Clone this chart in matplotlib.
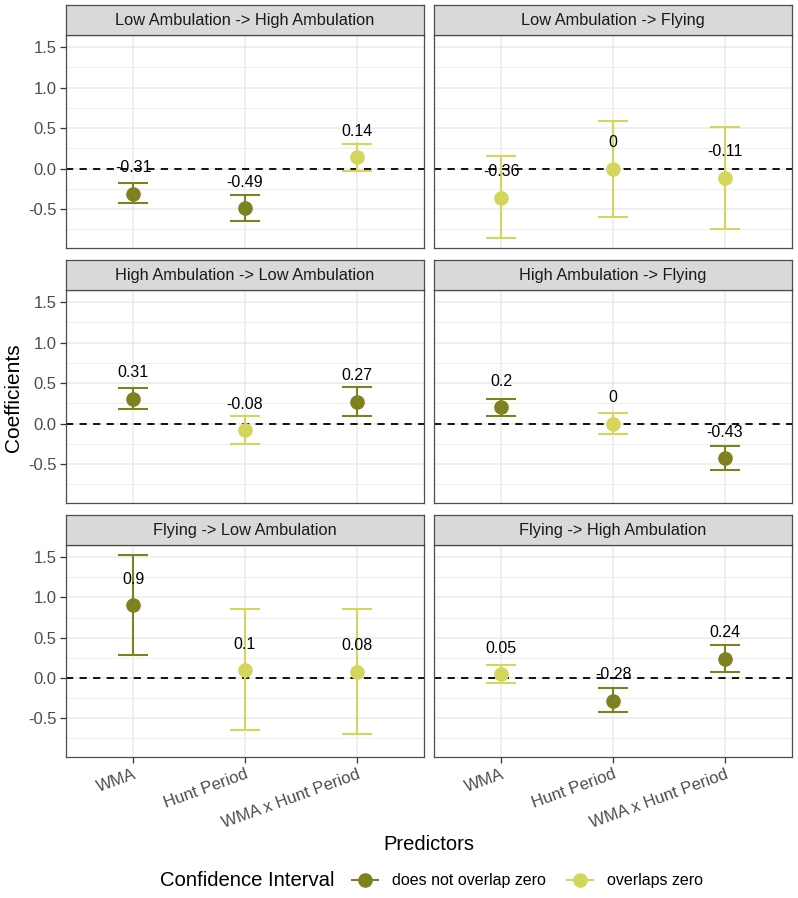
import matplotlib
matplotlib.use("Agg")
import matplotlib.pyplot as plt
from matplotlib.lines import Line2D

plt.rcParams["font.family"] = ["Liberation Sans", "DejaVu Sans"]

# ---- data ----
panels = ["Low Ambulation -> High Ambulation", "Low Ambulation -> Flying",
          "High Ambulation -> Low Ambulation", "High Ambulation -> Flying",
          "Flying -> Low Ambulation", "Flying -> High Ambulation"]
predictors = ["WMA", "Hunt Period", "WMA x Hunt Period"]

estimate = [[-0.31, -0.49, 0.14],
            [-0.36, 0.00, -0.11],
            [0.31, -0.08, 0.27],
            [0.20, 0.00, -0.43],
            [0.90, 0.10, 0.08],
            [0.05, -0.28, 0.24]]
ci_low = [[-0.43, -0.65, -0.03],
          [-0.86, -0.60, -0.74],
          [0.175, -0.25, 0.09],
          [0.095, -0.13, -0.575],
          [0.28, -0.65, -0.70],
          [-0.065, -0.42, 0.08]]
ci_high = [[-0.18, -0.33, 0.305],
           [0.155, 0.59, 0.52],
           [0.44, 0.09, 0.45],
           [0.30, 0.13, -0.28],
           [1.525, 0.86, 0.86],
           [0.165, -0.13, 0.41]]

groups = ["does not overlap zero", "overlaps zero"]
colors = {"does not overlap zero": "#7D811F", "overlaps zero": "#D3D65B"}

W, H = 798, 898
fig = plt.figure(figsize=(W / 100, H / 100), dpi=100)

def box(x0, y0, x1, y1):
    # pixel box (top-left origin) -> figure fraction
    return [x0 / W, 1 - y1 / H, (x1 - x0) / W, (y1 - y0) / H]

cols_x = [(66, 424), (434, 792)]
rows_y = [(35, 248), (290, 503), (545, 757)]
strip_h = 30
ylim = (-0.98, 1.65)

for p, title in enumerate(panels):
    r, c = divmod(p, 2)
    x0, x1 = cols_x[c]
    y0, y1 = rows_y[r]
    ax = fig.add_axes(box(x0, y0, x1, y1))
    ax.set_xlim(-0.6, 2.6)
    ax.set_ylim(*ylim)
    ax.set_yticks([-0.5, 0, 0.5, 1.0, 1.5])
    ax.set_yticks([-0.75, -0.25, 0.25, 0.75, 1.25], minor=True)
    ax.set_xticks(range(len(predictors)))
    ax.grid(which="major", color="#EBEBEB", lw=1.1)
    ax.grid(which="minor", axis="y", color="#EBEBEB", lw=0.6)
    ax.set_axisbelow(True)
    for s in ax.spines.values():
        s.set_color("#4D4D4D")
        s.set_linewidth(0.9)
    ax.tick_params(which="minor", length=0)
    ax.tick_params(which="major", length=4, color="#333333", width=0.9,
                   labelsize=12, labelcolor="#4D4D4D", pad=3)
    if c == 0:
        ax.set_yticklabels(["-0.5", "0.0", "0.5", "1.0", "1.5"])
    else:
        ax.tick_params(axis="y", length=0, labelleft=False)
    if r == 2:
        ax.set_xticklabels(predictors, rotation=20, ha="right",
                           rotation_mode="anchor")
    else:
        ax.tick_params(axis="x", length=0, labelbottom=False)

    ax.axhline(0, color="black", ls=(0, (4, 3.5)), lw=1.3, zorder=2)
    for i in range(len(predictors)):
        est, lo, hi = estimate[p][i], ci_low[p][i], ci_high[p][i]
        grp = groups[1] if lo <= 0 <= hi else groups[0]
        col = colors[grp]
        ax.errorbar(i, est, yerr=[[est - lo], [hi - est]], fmt="o",
                    color=col, ms=9.5, elinewidth=1.5, capsize=10.5,
                    capthick=1.5, zorder=3)
        ax.text(i, est + 0.32, "{:g}".format(round(est, 2)), ha="center",
                va="center", fontsize=11.5, color="black", zorder=4)

    sax = fig.add_axes(box(x0, y0 - strip_h, x1, y0))
    sax.set_facecolor("#D9D9D9")
    sax.set_xticks([]); sax.set_yticks([])
    for s in sax.spines.values():
        s.set_color("#4D4D4D")
        s.set_linewidth(0.9)
    sax.text(0.5, 0.48, title, ha="center", va="center", fontsize=11.8,
             color="#1A1A1A", transform=sax.transAxes)

fig.text(14 / W, 1 - 398 / H, "Coefficients", rotation=90, ha="center",
         va="center", fontsize=15)
fig.text(429 / W, 1 - 845 / H, "Predictors", ha="center", va="center",
         fontsize=14.5)

fig.text(160 / W, 1 - 881 / H, "Confidence Interval", ha="left",
         va="center", fontsize=14.6)
handles = [Line2D([], [], color=colors[g], marker="o", ms=9.5, lw=1.5)
           for g in groups]
fig.legend(handles, groups, loc="center left",
           bbox_to_anchor=(338 / W, 1 - 881 / H), ncol=2, frameon=False,
           fontsize=11.5, handlelength=1.6, handletextpad=0.9,
           columnspacing=1.3)

fig.savefig("out.png", dpi=100, facecolor="white")
